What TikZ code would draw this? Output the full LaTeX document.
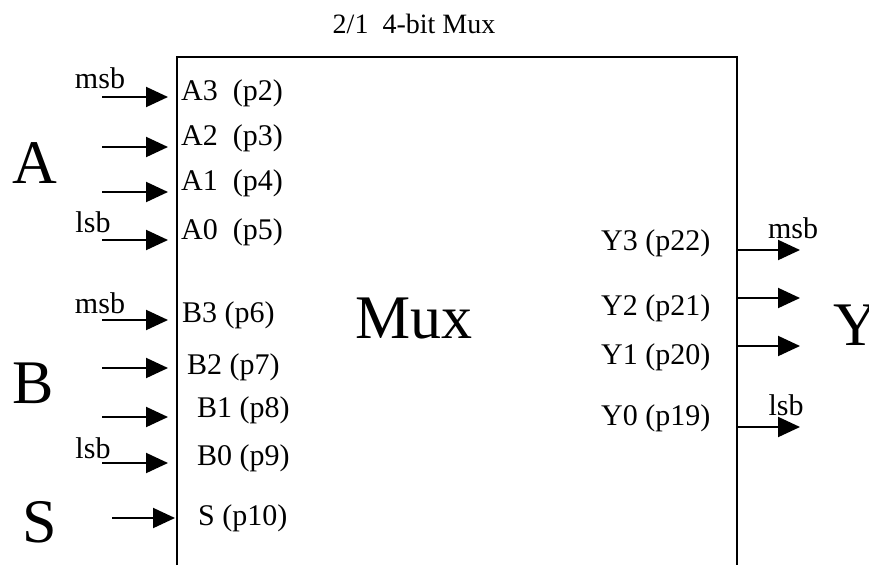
\documentclass[tikz,border=0pt]{standalone}
\usepackage{fontspec}
\setmainfont{Liberation Serif}
\usetikzlibrary{arrows.meta}

\begin{document}
\begin{tikzpicture}[x = 1pt, y = -1pt]
\tikzset{
	pin label/.style = {anchor = west, inner sep = 0, font = \fontsize{30}{32}\selectfont},
	bit label/.style = {inner sep = 0, font = \fontsize{30}{32}\selectfont},
	bus label/.style = {inner sep = 0, font = \fontsize{62}{66}\selectfont},
	signal/.style = {line width = 2pt, -{Triangle[length = 22pt, width = 20pt]}},
}
\useasboundingbox (0,0) rectangle (869,565);

% box, open at the bottom
\coordinate (bl) at (177,565);
\coordinate (tl) at (177,57);
\coordinate (tr) at (737,57);
\coordinate (br) at (737,565);
\draw [line width = 2pt] (bl) -- (tl) -- (tr) -- (br);

\node (title) at (414,24) [inner sep = 0, font = \fontsize{28}{30}\selectfont]{2/1~~4-bit Mux};
\node (mux) at (414,318) [bus label]{Mux};

% inputs
\node (A) at (35,163) [bus label]{A};
\node (B) at (33,383) [bus label]{B};
\node (S) at (40,522) [bus label]{S};
\node (Y) at (856,325) [bus label]{Y};

\node (A3) at (181,93) [pin label]{A3~~(p2)};
\node (A2) at (181,138) [pin label]{A2~~(p3)};
\node (A1) at (181,183) [pin label]{A1~~(p4)};
\node (A0) at (181,232) [pin label]{A0~~(p5)};
\node (B3) at (182,315) [pin label]{B3 (p6)};
\node (B2) at (187,367) [pin label]{B2 (p7)};
\node (B1) at (197,410) [pin label]{B1 (p8)};
\node (B0) at (197,458) [pin label]{B0 (p9)};
\node (S0) at (198,518) [pin label]{S (p10)};
\node (Y3) at (601,243) [pin label]{Y3 (p22)};
\node (Y2) at (601,308) [pin label]{Y2 (p21)};
\node (Y1) at (601,357) [pin label]{Y1 (p20)};
\node (Y0) at (601,418) [pin label]{Y0 (p19)};

\node (A msb) at (100,78) [bit label]{msb};
\node (A lsb) at (93,222) [bit label]{lsb};
\node (B msb) at (100,303) [bit label]{msb};
\node (B lsb) at (93,448) [bit label]{lsb};
\node (Y msb) at (793,228) [bit label]{msb};
\node (Y lsb) at (786,405) [bit label]{lsb};

% arrows
\coordinate (a3 tail) at (102,97);  \coordinate (a3 head) at (168,97);
\coordinate (a2 tail) at (102,147); \coordinate (a2 head) at (168,147);
\coordinate (a1 tail) at (102,192); \coordinate (a1 head) at (168,192);
\coordinate (a0 tail) at (102,240); \coordinate (a0 head) at (168,240);
\coordinate (b3 tail) at (102,320); \coordinate (b3 head) at (168,320);
\coordinate (b2 tail) at (102,368); \coordinate (b2 head) at (168,368);
\coordinate (b1 tail) at (102,417); \coordinate (b1 head) at (168,417);
\coordinate (b0 tail) at (102,463); \coordinate (b0 head) at (168,463);
\coordinate (s tail) at (112,518);  \coordinate (s head) at (175,518);
\coordinate (y3 tail) at (737,250); \coordinate (y3 head) at (800,250);
\coordinate (y2 tail) at (737,298); \coordinate (y2 head) at (800,298);
\coordinate (y1 tail) at (737,346); \coordinate (y1 head) at (800,346);
\coordinate (y0 tail) at (737,427); \coordinate (y0 head) at (800,427);

\draw [signal] (a3 tail) -- (a3 head);
\draw [signal] (a2 tail) -- (a2 head);
\draw [signal] (a1 tail) -- (a1 head);
\draw [signal] (a0 tail) -- (a0 head);
\draw [signal] (b3 tail) -- (b3 head);
\draw [signal] (b2 tail) -- (b2 head);
\draw [signal] (b1 tail) -- (b1 head);
\draw [signal] (b0 tail) -- (b0 head);
\draw [signal] (s tail) -- (s head);
\draw [signal] (y3 tail) -- (y3 head);
\draw [signal] (y2 tail) -- (y2 head);
\draw [signal] (y1 tail) -- (y1 head);
\draw [signal] (y0 tail) -- (y0 head);

\end{tikzpicture}
\end{document}
